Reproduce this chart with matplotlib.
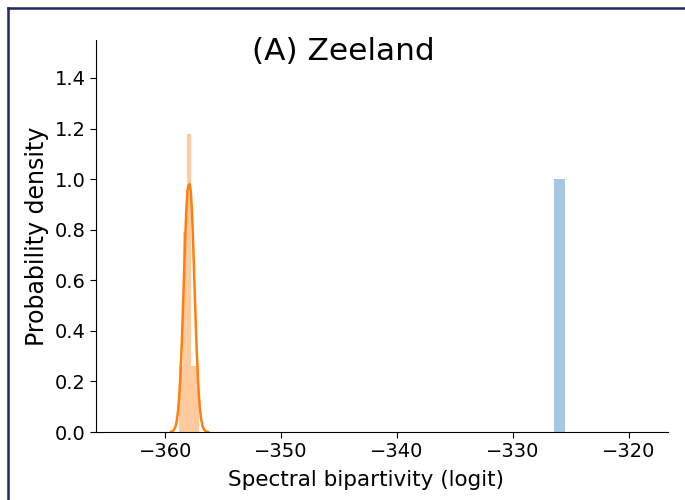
import numpy as np
import matplotlib
matplotlib.use('Agg')
import matplotlib.pyplot as plt
from matplotlib.lines import Line2D

# histogram of the real network (single value -> one bin)
blue_edges = [-326.45, -325.45]
blue_density = [1.0]

# histogram of the null model samples
orange_edges = [-358.86, -358.50, -358.14, -357.78, -357.42, -357.06]
orange_density = [0.26, 0.79, 1.18, 0.26, 0.26]

# kde curve of the null model
kde_x = [-359.5, -359.4, -359.3, -359.2, -359.1, -359.0, -358.9, -358.8, -358.7,
         -358.6, -358.5, -358.4, -358.3, -358.2, -358.1, -358.0, -357.9, -357.8,
         -357.7, -357.6, -357.5, -357.4, -357.3, -357.2, -357.1, -357.0, -356.9,
         -356.8, -356.7, -356.6, -356.5, -356.4, -356.3]
kde_y = [0.001, 0.003, 0.006, 0.013, 0.025, 0.048, 0.085, 0.142, 0.223,
         0.330, 0.461, 0.605, 0.747, 0.868, 0.951, 0.975, 0.98, 0.951,
         0.868, 0.747, 0.605, 0.461, 0.330, 0.223, 0.142, 0.085, 0.048,
         0.025, 0.013, 0.006, 0.003, 0.001, 0.0]

yticks = [0.0, 0.2, 0.4, 0.6, 0.8, 1.0, 1.2, 1.4]
xticks = [-360, -350, -340, -330, -320]

fig = plt.figure(figsize=(6.85, 5.0), dpi=100)
ax = fig.add_axes([0.140, 0.136, 0.835, 0.784])

c0 = '#1f77b4'
c1 = '#ff7f0e'

ax.bar(blue_edges[:-1], blue_density, width=np.diff(blue_edges), align='edge',
       color=c0, alpha=0.4, linewidth=0)
ax.bar(orange_edges[:-1], orange_density, width=np.diff(orange_edges), align='edge',
       color=c1, alpha=0.4, linewidth=0)
ax.plot(kde_x, kde_y, color=c1, lw=1.8)

ax.set_xlim(-366, -316.6)
ax.set_ylim(0, 1.55)
ax.set_xticks(xticks)
ax.set_yticks(yticks)
ax.set_yticklabels(['%.1f' % t for t in yticks])
ax.tick_params(labelsize=14, length=4)
ax.set_xlabel('Spectral bipartivity (logit)', fontsize=15.5)
ax.xaxis.set_label_coords(0.472, -0.098)
ax.set_ylabel('Probability density', fontsize=17)
ax.spines['top'].set_visible(False)
ax.spines['right'].set_visible(False)

fig.text(343 / 685, 1 - 60 / 500, '(A) Zeeland', ha='center', va='baseline', fontsize=22.5)

# frame of the original screenshot (left and top edges)
fig.add_artist(Line2D([8 / 685, 8 / 685], [0, 1 - 8 / 500], transform=fig.transFigure,
                      color='#1f2a5a', lw=1.8))
fig.add_artist(Line2D([8 / 685, 1], [1 - 8 / 500, 1 - 8 / 500], transform=fig.transFigure,
                      color='#1f2a5a', lw=1.8))

fig.savefig('out.png', dpi=100)
